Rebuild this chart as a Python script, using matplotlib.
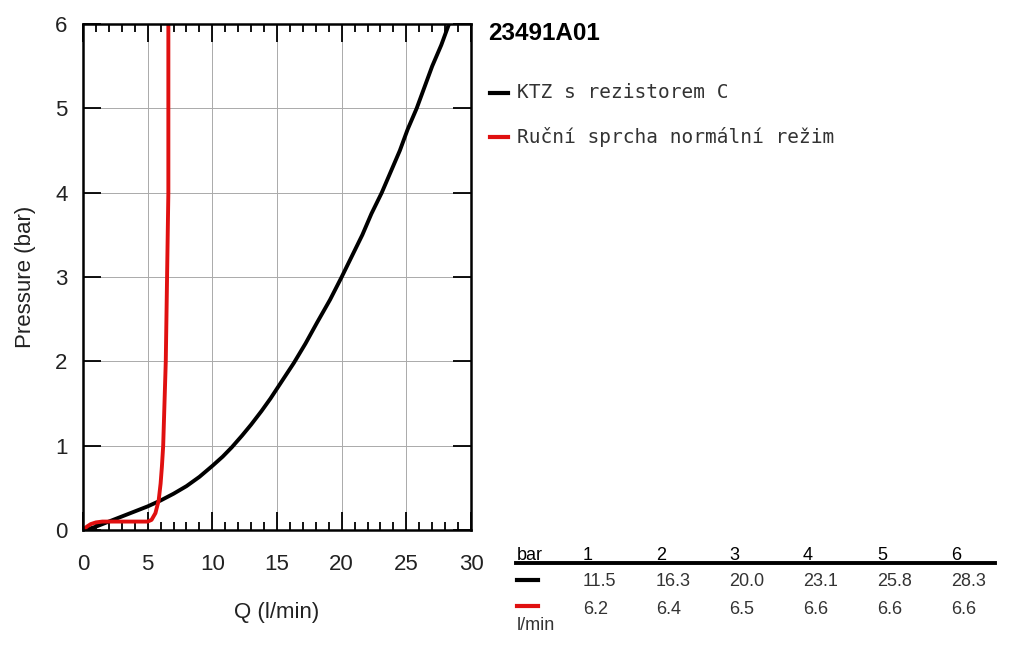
import matplotlib.pyplot as plt
import numpy as np
from matplotlib.ticker import MultipleLocator

plt.rcParams['font.family'] = ['Liberation Sans', 'DejaVu Sans']

# pressure curves, Q (l/min) vs pressure (bar)
ktz_q = [0, 0.5, 1, 1.5, 2, 3, 4, 5, 6, 7, 8, 9, 10, 10.8, 11.5, 12.3, 13, 13.8, 14.5, 15.4, 16.3, 17.2, 18.1, 19.1, 20.0,
         20.8, 21.6, 22.3, 23.1, 23.8, 24.5, 25.1, 25.8, 26.4, 27.0, 27.7, 28.3]
ktz_p = [0, 0.015, 0.04, 0.07, 0.1, 0.16, 0.22, 0.28, 0.35, 0.43, 0.52, 0.63, 0.76, 0.87, 0.98, 1.12, 1.25, 1.41, 1.56, 1.77,
         1.98, 2.21, 2.46, 2.73, 3.0, 3.25, 3.5, 3.75, 4.0, 4.25, 4.5, 4.75, 5.0, 5.25, 5.5, 5.75, 6.0]

sprcha_q = [0, 0.3, 0.6, 1.0, 1.5, 3.0, 5.0, 5.3, 5.6, 5.85, 6.0, 6.1, 6.2, 6.3, 6.4, 6.5, 6.55, 6.6, 6.6, 6.6]
sprcha_p = [0, 0.04, 0.07, 0.09, 0.1, 0.1, 0.1, 0.12, 0.2, 0.35, 0.55, 0.75, 1.0, 1.5, 2.0, 3.0, 3.5, 4.0, 5.0, 6.0]

# table values
tab_bar = ['1', '2', '3', '4', '5', '6']
tab_ktz = ['11.5', '16.3', '20.0', '23.1', '25.8', '28.3']
tab_sprcha = ['6.2', '6.4', '6.5', '6.6', '6.6', '6.6']

names = ['KTZ s rezistorem C', 'Ruční sprcha normální režim']
colors = ['#000000', '#e01010']

W, H = 1013, 645
fig = plt.figure(figsize=(W / 100, H / 100), dpi=100)
ax = fig.add_axes([83 / W, 1 - 530 / H, (471 - 83) / W, (530 - 24) / H])

ax.plot(ktz_q, ktz_p, color=colors[0], lw=2.8, solid_capstyle='round', solid_joinstyle='round')
ax.plot(sprcha_q, sprcha_p, color=colors[1], lw=2.8, solid_capstyle='round', solid_joinstyle='round')

ax.set_xlim(0, 30)
ax.set_ylim(0, 6)
ax.xaxis.set_major_locator(MultipleLocator(5))
ax.xaxis.set_minor_locator(MultipleLocator(1))
ax.yaxis.set_major_locator(MultipleLocator(1))
ax.grid(True, which='major', color='#aaaaaa', lw=0.7)
ax.tick_params(which='both', direction='in', top=True, right=True, labelsize=16, colors='black',
               labelcolor='#222222')
ax.tick_params(which='major', length=13, width=1.3)
ax.tick_params(which='minor', length=6, width=1.3)
ax.tick_params(axis='x', which='major', pad=17)
ax.tick_params(axis='y', which='major', pad=11)
for s in ax.spines.values():
    s.set_linewidth(1.8)

ax.set_xlabel('Q (l/min)', fontsize=16, labelpad=20, color='#222222')
ax.set_ylabel('Pressure (bar)', fontsize=16, labelpad=14, color='#222222')

# legend part on the right
fig.text(488 / W, 1 - 33 / H, '23491A01', fontsize=17.5, fontweight='bold', va='center', ha='left')
leg_y = [93, 137]
for i in range(2):
    y = 1 - leg_y[i] / H
    fig.add_artist(plt.Line2D([490 / W, 508 / W], [y, y], color=colors[i], lw=3))
    fig.text(517 / W, y, names[i], fontsize=14, va='center', ha='left', family='DejaVu Sans Mono',
             color='#333333')

# table
col_x = [583, 656, 729, 803, 877, 951]
fig.text(517 / W, 1 - 555 / H, 'bar', fontsize=13, va='center', ha='left')
for i in range(6):
    fig.text(col_x[i] / W, 1 - 555 / H, tab_bar[i], fontsize=13, va='center', ha='left')
    fig.text(col_x[i] / W, 1 - 581 / H, tab_ktz[i], fontsize=13, va='center', ha='left', color='#333333')
    fig.text(col_x[i] / W, 1 - 609 / H, tab_sprcha[i], fontsize=13, va='center', ha='left', color='#333333')
fig.add_artist(plt.Line2D([516 / W, 995 / W], [1 - 563 / H, 1 - 563 / H], color='black', lw=2.8))
fig.add_artist(plt.Line2D([517 / W, 538 / W], [1 - 580 / H, 1 - 580 / H], color=colors[0], lw=3))
fig.add_artist(plt.Line2D([517 / W, 538 / W], [1 - 606 / H, 1 - 606 / H], color=colors[1], lw=3))
fig.text(517 / W, 1 - 626 / H, 'l/min', fontsize=13, va='center', ha='left', color='#333333')

fig.savefig('out.png', dpi=100)
